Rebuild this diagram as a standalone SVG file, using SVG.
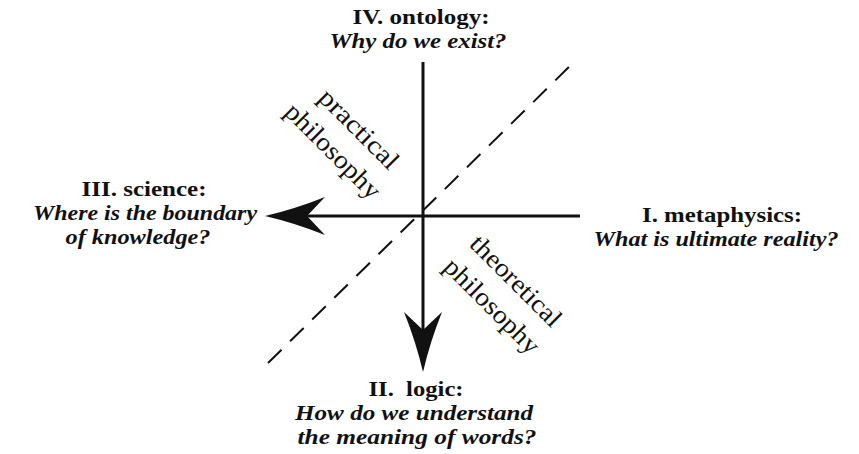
<svg xmlns="http://www.w3.org/2000/svg" width="859" height="454" viewBox="0 0 859 454">
  <style>
    .t { font-family: "Liberation Serif", "Times New Roman", serif; fill: #111; text-anchor: middle; }
    .h { font-size: 21px; font-weight: bold; }
    .q { font-size: 21px; font-weight: bold; font-style: italic; }
    .r { font-size: 26px; font-weight: normal; }
    .axis { stroke: #111; stroke-width: 3; fill: none; }
    .dash { stroke: #111; stroke-width: 2; stroke-dasharray: 19 12; fill: none; }
  </style>
  <defs>
    <marker id="head" markerUnits="userSpaceOnUse" viewBox="-62 -21 64 42" refX="-38" refY="0" markerWidth="64" markerHeight="42" orient="auto">
      <path d="M0,0 Q-30,-7 -60,-19 L-42,0 L-60,19 Q-30,7 0,0 Z" fill="#111"/>
    </marker>
  </defs>

  <g id="connectors">
    <line class="dash" x1="268" y1="363" x2="573" y2="63"/>
    <line class="axis" x1="580" y1="216" x2="303" y2="216" marker-end="url(#head)"/>
    <line class="axis" x1="423" y1="62" x2="423" y2="334" marker-end="url(#head)"/>
  </g>

  <g id="ontology">
    <text class="t h" x="421" y="24" textLength="137" lengthAdjust="spacingAndGlyphs">IV. ontology:</text>
    <text class="t q" x="418" y="48" textLength="177" lengthAdjust="spacingAndGlyphs">Why do we exist?</text>
  </g>

  <g id="science">
    <text class="t h" x="144" y="196" textLength="125" lengthAdjust="spacingAndGlyphs">III. science:</text>
    <text class="t q" x="145" y="220" textLength="224" lengthAdjust="spacingAndGlyphs">Where is the boundary</text>
    <text class="t q" x="138" y="244" textLength="145" lengthAdjust="spacingAndGlyphs">of knowledge?</text>
  </g>

  <g id="metaphysics">
    <text class="t h" x="722" y="222" textLength="160" lengthAdjust="spacingAndGlyphs">I. metaphysics:</text>
    <text class="t q" x="716" y="246" textLength="245" lengthAdjust="spacingAndGlyphs">What is ultimate reality?</text>
  </g>

  <g id="logic">
    <text class="t h" x="416" y="396" textLength="95" lengthAdjust="spacingAndGlyphs" xml:space="preserve">II.  logic:</text>
    <text class="t q" x="414" y="420" textLength="238" lengthAdjust="spacingAndGlyphs">How do we understand</text>
    <text class="t q" x="417" y="444" textLength="239" lengthAdjust="spacingAndGlyphs">the meaning of words?</text>
  </g>

  <g id="practical-philosophy">
    <text class="t r" x="353" y="135" transform="rotate(45 353 135)" textLength="102" lengthAdjust="spacingAndGlyphs">practical</text>
    <text class="t r" x="327" y="157" transform="rotate(45 327 157)" textLength="124" lengthAdjust="spacingAndGlyphs">philosophy</text>
  </g>

  <g id="theoretical-philosophy">
    <text class="t r" x="510" y="287" transform="rotate(45 510 287)" textLength="118" lengthAdjust="spacingAndGlyphs">theoretical</text>
    <text class="t r" x="486" y="312" transform="rotate(45 486 312)" textLength="124" lengthAdjust="spacingAndGlyphs">philosophy</text>
  </g>
</svg>
